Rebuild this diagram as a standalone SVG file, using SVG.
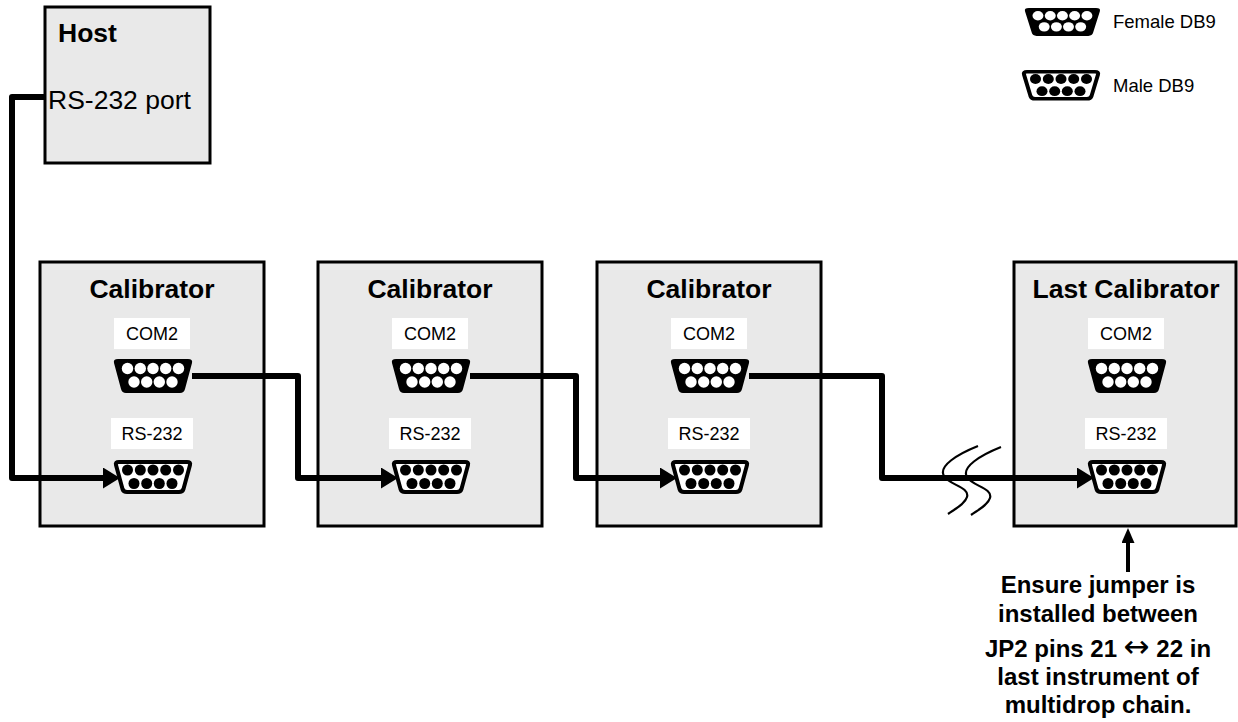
<svg xmlns="http://www.w3.org/2000/svg" xmlns:xlink="http://www.w3.org/1999/xlink" width="1238" height="722" viewBox="0 0 1238 722">
<style>
.box{fill:#e9e9e9;stroke:#000;stroke-width:3}
.lbl{fill:#fff}
.title{font-family:"Liberation Sans",Arial,sans-serif;font-weight:bold;font-size:26.5px;fill:#000}
.port{font-family:"Liberation Sans",Arial,sans-serif;font-size:18px;fill:#000;text-anchor:middle}
.leg{font-family:"Liberation Sans",Arial,sans-serif;font-size:18.5px;fill:#000}
.note{font-family:"Liberation Sans",Arial,sans-serif;font-weight:bold;font-size:24px;fill:#000;text-anchor:middle}
.arr{font-family:"DejaVu Sans",sans-serif;font-weight:normal;font-size:31px}
.wire{fill:none;stroke:#000;stroke-width:6;stroke-linejoin:round}
.brk{fill:none;stroke:#000;stroke-width:2.2}
</style>
<defs>
<marker id="ah" viewBox="0 0 17 21" refX="5" refY="10.5" markerWidth="17" markerHeight="21" markerUnits="userSpaceOnUse" orient="auto">
<path d="M0,0 L17,10.5 L0,21 Z" fill="#000"/>
</marker>
<marker id="ah2" viewBox="0 0 15 13" refX="5" refY="6.5" markerWidth="15" markerHeight="13" markerUnits="userSpaceOnUse" orient="auto">
<path d="M0,0 L15,6.5 L0,13 Z" fill="#000"/>
</marker>
<g id="female">
<path d="M4,0 H74 Q79,0 78,4 L71,30 Q70,34 66,34 H12 Q8,34 7,30 L0,4 Q-1,0 4,0 Z" fill="#000"/>
<g fill="#fff">
<circle cx="13.5" cy="9.5" r="5.7"/><circle cx="26.3" cy="9.5" r="5.7"/><circle cx="39" cy="9.5" r="5.7"/><circle cx="51.7" cy="9.5" r="5.7"/><circle cx="64.5" cy="9.5" r="5.7"/>
<circle cx="20" cy="23" r="5.7"/><circle cx="32.7" cy="23" r="5.7"/><circle cx="45.3" cy="23" r="5.7"/><circle cx="58" cy="23" r="5.7"/>
</g>
</g>
<g id="male">
<path d="M5,2 H73 Q77,2 76,5 L69.5,29 Q68.5,32 65,32 H13 Q9.5,32 8.5,29 L2,5 Q1,2 5,2 Z" fill="#fff" stroke="#000" stroke-width="4"/>
<g fill="#000">
<circle cx="13.5" cy="10" r="5.5"/><circle cx="26.3" cy="10" r="5.5"/><circle cx="39" cy="10" r="5.5"/><circle cx="51.7" cy="10" r="5.5"/><circle cx="64.5" cy="10" r="5.5"/>
<circle cx="20" cy="23.5" r="5.5"/><circle cx="32.7" cy="23.5" r="5.5"/><circle cx="45.3" cy="23.5" r="5.5"/><circle cx="58" cy="23.5" r="5.5"/>
</g>
</g>
</defs>

<g id="legend">
<use xlink:href="#female" href="#female" transform="translate(1025,8) scale(0.96,0.82)"/>
<text class="leg" x="1113" y="28">Female DB9</text>
<use xlink:href="#male" href="#male" transform="translate(1022,70) scale(1,0.9)"/>
<text class="leg" x="1113" y="92">Male DB9</text>
</g>

<g id="host">
<rect class="box" x="45" y="7" width="165" height="156"/>
<text class="title" x="58" y="42">Host</text>
<text x="48" y="109" font-family="Liberation Sans, Arial, sans-serif" font-size="26.5">RS-232 port</text>
</g>

<g id="cal1">
<rect class="box" x="40" y="262" width="224" height="264"/>
<text class="title" x="152" y="298" text-anchor="middle">Calibrator</text>
<rect class="lbl" x="114" y="318" width="76" height="31"/>
<text class="port" x="152" y="340">COM2</text>
<use xlink:href="#female" href="#female" x="114" y="359"/>
<rect class="lbl" x="111" y="418" width="82" height="31"/>
<text class="port" x="152" y="440">RS-232</text>
<use xlink:href="#male" href="#male" x="114" y="460"/>
</g>

<g id="cal2">
<rect class="box" x="318" y="262" width="224" height="264"/>
<text class="title" x="430" y="298" text-anchor="middle">Calibrator</text>
<rect class="lbl" x="392" y="318" width="76" height="31"/>
<text class="port" x="430" y="340">COM2</text>
<use xlink:href="#female" href="#female" x="392" y="359"/>
<rect class="lbl" x="389" y="418" width="82" height="31"/>
<text class="port" x="430" y="440">RS-232</text>
<use xlink:href="#male" href="#male" x="392" y="460"/>
</g>

<g id="cal3">
<rect class="box" x="597" y="262" width="224" height="264"/>
<text class="title" x="709" y="298" text-anchor="middle">Calibrator</text>
<rect class="lbl" x="671" y="318" width="76" height="31"/>
<text class="port" x="709" y="340">COM2</text>
<use xlink:href="#female" href="#female" x="671" y="359"/>
<rect class="lbl" x="668" y="418" width="82" height="31"/>
<text class="port" x="709" y="440">RS-232</text>
<use xlink:href="#male" href="#male" x="671" y="460"/>
</g>

<g id="cal4">
<rect class="box" x="1014" y="262" width="222" height="264"/>
<text class="title" x="1126" y="298" text-anchor="middle">Last Calibrator</text>
<rect class="lbl" x="1088" y="318" width="76" height="31"/>
<text class="port" x="1126" y="340">COM2</text>
<use xlink:href="#female" href="#female" x="1088" y="359"/>
<rect class="lbl" x="1085" y="418" width="82" height="31"/>
<text class="port" x="1126" y="440">RS-232</text>
<use xlink:href="#male" href="#male" x="1088" y="460"/>
</g>

<g id="connectors">
<path class="wire" d="M45,97 H12 V478 H108" marker-end="url(#ah)"/>
<path class="wire" d="M192,376 H298 V478 H386" marker-end="url(#ah)"/>
<path class="wire" d="M470,376 H576 V478 H665" marker-end="url(#ah)"/>
<path class="wire" d="M749,376 H882 V478 H1082" marker-end="url(#ah)"/>
<path class="brk" d="M978,446 C958,454 938,466 944,476 C949,485 970,487 967,497 C965,504 955,509 948,514"/>
<path class="brk" d="M1001,447 C981,455 961,467 967,477 C972,486 993,488 990,498 C988,505 978,510 971,515"/>
<path fill="none" stroke="#000" stroke-width="4" d="M1128,572 V538" marker-end="url(#ah2)"/>
</g>

<g id="note">
<text class="note" x="1098" y="593">Ensure jumper is</text>
<text class="note" x="1098" y="622">installed between</text>
<text class="note" x="1098" y="657">JP2 pins 21 <tspan class="arr">↔</tspan> 22 in</text>
<text class="note" x="1098" y="685">last instrument of</text>
<text class="note" x="1098" y="713">multidrop chain.</text>
</g>
</svg>
